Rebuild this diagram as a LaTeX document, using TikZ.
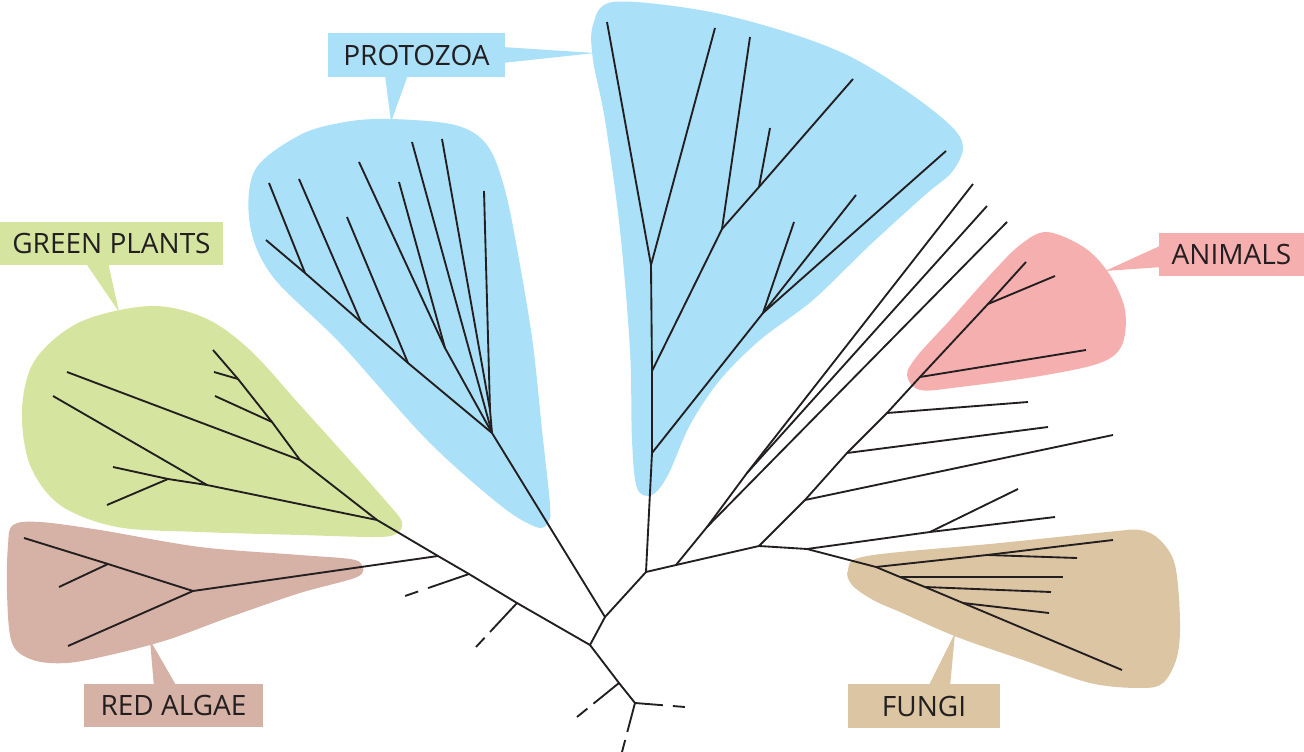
\documentclass[tikz,border=0pt]{standalone}
\usepackage{fontspec}
\setmainfont{Open Sans}
\definecolor{cblue}{HTML}{AAE0F8}
\definecolor{cgreen}{HTML}{D5E5A0}
\definecolor{cpink}{HTML}{F6AFAF}
\definecolor{cred}{HTML}{D6B1A5}
\definecolor{cfungi}{HTML}{DCC5A3}
\definecolor{inkc}{HTML}{231F20}
\begin{document}
\begin{tikzpicture}[x=0.75pt,y=-0.75pt,
  tree/.style={line width=1.4pt, draw=inkc, line join=round},
  lbl/.style={inner sep=0pt, font=\fontsize{21}{25}\selectfont, text=inkc},
  blob/.style={smooth cycle, tension=0.55}]
\useasboundingbox (0,0) rectangle (1304,752);
% ---------- blobs ----------
\fill[cgreen] plot[blob] coordinates {(150,306) (205,318) (250,350) (300,405) (345,455) (385,500) (402,522) (396,534) (375,537) (300,535) (200,532) (117,527) (60,505) (30,465) (22,410) (35,360) (80,322)};
\fill[cred] plot[blob] coordinates {(13,525) (40,522) (100,530) (200,547) (300,555) (350,559) (362,565) (357,577) (300,593) (230,617) (167,640) (110,655) (67,663) (33,660) (12,643) (7,593) (8,545)};
\fill[cblue] plot[blob] coordinates {(390,119) (455,125) (487,145) (505,190) (520,265) (533,345) (542,430) (550,505) (548,523) (536,527) (500,505) (427,440) (340,343) (273,277) (250,225) (255,170) (300,135) (345,122)};
\fill[cblue] plot[blob] coordinates {(593,25) (613,2) (700,10) (780,30) (847,55) (905,90) (950,125) (963,147) (952,172) (925,195) (870,245) (813,300) (760,340) (720,380) (690,425) (668,475) (652,495) (637,488) (632,440) (630,350) (620,230) (605,120) (593,60)};
\fill[cpink] plot[blob] coordinates {(1047,232) (1085,248) (1110,275) (1125,310) (1122,345) (1100,363) (1040,376) (960,387) (920,390) (907,375) (918,355) (950,320) (990,275) (1020,245)};
\fill[cfungi] plot[blob] coordinates {(848,570) (867,556) (1000,543) (1107,532) (1140,530) (1160,540) (1175,565) (1180,620) (1177,657) (1163,683) (1140,688) (1090,683) (1023,660) (957,637) (900,612) (873,600) (852,585)};
% ---------- pointers ----------
\fill[cgreen] (85,262) -- (108,262) -- (119,312) -- cycle;
\fill[cred] (150,640) -- (177,687) -- (154,687) -- cycle;
\fill[cblue] (385,75) -- (408,75) -- (391,122) -- cycle;
\fill[cblue] (502,47) -- (502,63) -- (595,53) -- cycle;
\fill[cpink] (1162,245) -- (1162,267) -- (1105,271) -- cycle;
\fill[cfungi] (928,687) -- (950,687) -- (955,633) -- cycle;
% ---------- labels ----------
\node[lbl, fill=cgreen, minimum width=167.25pt, minimum height=32.25pt] (green) at (111.5,243.5) {GREEN PLANTS};
\node[lbl, fill=cblue, minimum width=132.75pt, minimum height=33pt] (protozoa) at (416.5,55) {PROTOZOA};
\node[lbl, fill=cpink, minimum width=108.75pt, minimum height=32.25pt] (animals) at (1231.5,254.5) {ANIMALS};
\node[lbl, fill=cred, minimum width=134.25pt, minimum height=32.25pt] (redalgae) at (173.5,705.5) {RED ALGAE};
\node[lbl, fill=cfungi, minimum width=114pt, minimum height=33pt] (fungi) at (924,706) {FUNGI};
% ---------- tree coordinates ----------
\coordinate (r0) at (590,645); \coordinate (r1) at (605,617); \coordinate (r2) at (646,572);
\coordinate (jd) at (619,683); \coordinate (r3) at (635,703);
\coordinate (L1) at (517,603); \coordinate (L2) at (469,574); \coordinate (L3) at (438,556);
\coordinate (dL1) at (476,647); \coordinate (dL2) at (405,596); \coordinate (djd) at (577,717);
\coordinate (dr3a) at (685,707); \coordinate (dr3b) at (622,752);
% red algae
\coordinate (R0) at (193,591); \coordinate (R1) at (108,564);
\coordinate (a1) at (24,538); \coordinate (a2) at (59,587); \coordinate (a3) at (68,646);
% green plants
\coordinate (G0) at (377,520); \coordinate (G1) at (300,460); \coordinate (G2) at (272,422);
\coordinate (G3) at (238,379); \coordinate (G4) at (207,485); \coordinate (G5) at (168,479);
\coordinate (g1) at (213,350); \coordinate (g2) at (215,396); \coordinate (g3) at (214,372);
\coordinate (g4) at (67,372); \coordinate (g5) at (113,467); \coordinate (g6) at (107,505);
\coordinate (g7) at (53,396);
% small protozoa
\coordinate (P0) at (492,433); \coordinate (P1) at (408,363); \coordinate (P2) at (361,322);
\coordinate (P3) at (305,273); \coordinate (P4) at (445,348); \coordinate (P5) at (490,410);
\coordinate (p1) at (266,240); \coordinate (p2) at (347,217); \coordinate (p3) at (299,179);
\coordinate (p4) at (269,183); \coordinate (p5) at (359,162); \coordinate (p6) at (399,182);
\coordinate (p7) at (412,142); \coordinate (p8) at (442,139); \coordinate (p9) at (484,191);
% big protozoa
\coordinate (B0) at (652,453); \coordinate (B1) at (652,371); \coordinate (B2) at (651,265);
\coordinate (B3) at (722,229); \coordinate (B4) at (759,187); \coordinate (B5) at (763,313);
\coordinate (b1) at (607,22); \coordinate (b2) at (715,28); \coordinate (b3) at (750,37);
\coordinate (b4) at (770,128); \coordinate (b5) at (853,79); \coordinate (b6) at (794,222);
\coordinate (b7) at (856,195); \coordinate (b8) at (946,151);
% right side
\coordinate (C0) at (676,565); \coordinate (C1) at (707,527); \coordinate (C2) at (747,473);
\coordinate (c1) at (1007,222); \coordinate (c2) at (973,184); \coordinate (c3) at (987,206);
\coordinate (D0) at (759,546); \coordinate (D1) at (805,500); \coordinate (D2) at (847,453);
\coordinate (D3) at (887,413); \coordinate (D4) at (920,377); \coordinate (D5) at (988,304);
\coordinate (d1) at (1026,262); \coordinate (d2) at (1055,276); \coordinate (d3) at (1086,350);
\coordinate (d4) at (1028,402); \coordinate (d5) at (1048,427); \coordinate (d6) at (1113,435);
\coordinate (F0) at (807,549); \coordinate (F1) at (930,532); \coordinate (F2) at (876,567);
\coordinate (F3) at (900,577); \coordinate (F4) at (925,587); \coordinate (F5) at (963,603);
\coordinate (F6) at (987,555);
\coordinate (f1) at (1055,517); \coordinate (f2) at (1018,489); \coordinate (f3) at (1122,670);
\coordinate (f4) at (1113,540); \coordinate (f5) at (1077,558); \coordinate (f6) at (1063,577);
\coordinate (f7) at (1051,592); \coordinate (f8) at (1049,613);
% ---------- tree lines ----------
\draw[tree] (r2) -- (r1) -- (r0) -- (jd) -- (r3);
\draw[tree] (r1) -- (P0);
\draw[tree] (r0) -- (L1) -- (L2) -- (L3) -- (G0) -- (G1) -- (G2) -- (G3) -- (g1);
\draw[tree, dash pattern=on 29.7pt off 5.9pt on 9.6pt off 60pt] (L1) -- (dL1);
\draw[tree, dash pattern=on 32.5pt off 7.8pt on 10.4pt off 60pt] (L2) -- (dL2);
\draw[tree, dash pattern=on 24.6pt off 5.9pt on 10.1pt off 60pt] (jd) -- (djd);
\draw[tree, dash pattern=on 21pt off 7.5pt on 9pt off 60pt] (r3) -- (dr3a);
\draw[tree, dash pattern=on 22.5pt off 6.2pt on 9.3pt off 60pt] (r3) -- (dr3b);
% red algae
\draw[tree] (L3) -- (R0) -- (R1) -- (a1);
\draw[tree] (R1) -- (a2);
\draw[tree] (R0) -- (a3);
% green plants
\draw[tree] (G2) -- (g2);
\draw[tree] (G3) -- (g3);
\draw[tree] (G1) -- (g4);
\draw[tree] (G0) -- (G4) -- (G5) -- (g5);
\draw[tree] (G5) -- (g6);
\draw[tree] (G4) -- (g7);
% small protozoa
\draw[tree] (P0) -- (P1) -- (P2) -- (P3) -- (p1);
\draw[tree] (P1) -- (p2);
\draw[tree] (P2) -- (p3);
\draw[tree] (P3) -- (p4);
\draw[tree] (P0) -- (P4) -- (p5);
\draw[tree] (P4) -- (p6);
\draw[tree] (P0) -- (p7);
\draw[tree] (P0) -- (P5) -- (p8);
\draw[tree] (P5) -- (p9);
% big protozoa
\draw[tree] (r2) -- (B0) -- (B1) -- (B2) -- (b1);
\draw[tree] (B2) -- (b2);
\draw[tree] (B1) -- (B3) -- (b3);
\draw[tree] (B3) -- (B4) -- (b5);
\draw[tree] (B4) -- (b4);
\draw[tree] (B0) -- (B5) -- (b6);
\draw[tree] (B5) -- (b7);
\draw[tree] (B5) -- (b8);
% right side and animals
\draw[tree] (r2) -- (C0) -- (C1) -- (c1);
\draw[tree] (C1) -- (C2) -- (c2);
\draw[tree] (C2) -- (c3);
\draw[tree] (C0) -- (D0) -- (D1) -- (D2) -- (D3) -- (D4) -- (D5) -- (d1);
\draw[tree] (D5) -- (d2);
\draw[tree] (D4) -- (d3);
\draw[tree] (D3) -- (d4);
\draw[tree] (D2) -- (d5);
\draw[tree] (D1) -- (d6);
% fungi
\draw[tree] (D0) -- (F0) -- (F1) -- (f1);
\draw[tree] (F1) -- (f2);
\draw[tree] (F0) -- (F2) -- (F3) -- (F4) -- (F5) -- (f3);
\draw[tree] (F2) -- (F6) -- (f4);
\draw[tree] (F6) -- (f5);
\draw[tree] (F3) -- (f6);
\draw[tree] (F4) -- (f7);
\draw[tree] (F5) -- (f8);
\end{tikzpicture}
\end{document}
